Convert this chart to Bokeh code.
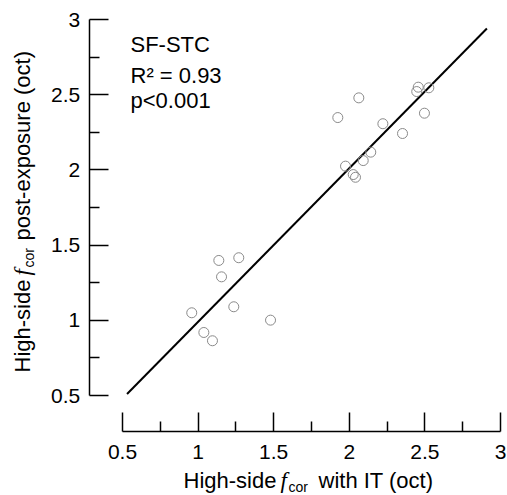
import math
from bokeh.plotting import figure
from bokeh.models import Label, FixedTicker, Range1d
from bokeh.embed import file_html
from bokeh.resources import INLINE

# ---- data ----
it_x = [2.456, 2.526, 2.446, 2.063, 1.924, 2.497, 2.222, 2.352, 2.142, 2.092,
        1.975, 2.026, 2.041, 1.137, 1.269, 1.155, 1.236, 0.958, 1.479, 1.038, 1.095]
post_y = [2.550, 2.546, 2.521, 2.479, 2.348, 2.377, 2.307, 2.242, 2.118, 2.062,
          2.025, 1.969, 1.951, 1.398, 1.416, 1.289, 1.090, 1.050, 1.001, 0.919, 0.864]
fit_x = [0.53, 2.91]
fit_y = [0.51, 2.94]
ticks = [0.5, 1, 1.5, 2, 2.5, 3]
tick_labels = ["0.5", "1", "1.5", "2", "2.5", "3"]
minor = [0.75, 1.25, 1.75, 2.25, 2.75]
stats = ["SF-STC", "R\u00b2 = 0.93", "p<0.001"]

W, H = 507, 495
PX = 151.2   # px per unit, x
PY = 150.4   # px per unit, y
XS = 0.5 - 122 / PX          # x value at left canvas edge
YE = 3.0 + 19 / PY           # y value at top canvas edge

p = figure(width=W, height=H, output_backend="svg", toolbar_location=None,
           x_range=Range1d(XS, XS + W / PX), y_range=Range1d(YE - H / PY, YE),
           min_border=0, min_border_left=0, min_border_right=0,
           min_border_top=0, min_border_bottom=0)
p.outline_line_color = None
p.grid.visible = False
p.background_fill_color = "white"
p.border_fill_color = "white"

def px2x(px):
    return XS + px / PX

def px2y(py):
    return YE - py / PY

for ax in (p.xaxis[0], p.yaxis[0]):
    ax.ticker = FixedTicker(ticks=ticks, minor_ticks=minor)
    ax.major_label_overrides = {t: l for t, l in zip(ticks, tick_labels)}
    ax.bounds = (0.5, 3)
    ax.axis_line_color = "black"
    ax.axis_line_width = 1.5
    ax.major_tick_line_color = "black"
    ax.major_tick_line_width = 1.5
    ax.minor_tick_line_color = "black"
    ax.minor_tick_line_width = 1.5
    ax.major_tick_in = 19
    ax.major_tick_out = 0
    ax.minor_tick_in = 10
    ax.minor_tick_out = 0
    ax.major_label_text_font = "Liberation Sans"
    ax.major_label_text_font_size = "21px"
    ax.major_label_text_color = "black"
p.xaxis.fixed_location = px2y(431)
p.yaxis.fixed_location = px2x(88.7)
p.xaxis.major_label_standoff = 13
p.yaxis.major_label_standoff = 9

p.line(fit_x, fit_y, line_color="black", line_width=2)
p.scatter(it_x, post_y, marker="circle", size=10, fill_color=None,
          line_color="#8a8a8a", line_width=1)

def lab(x, y, text, size, angle=0.0, font="Liberation Sans", style="normal"):
    p.add_layout(Label(x=x, y=y, text=text, text_baseline="middle", text_align="left",
                       angle=angle, text_font=font, text_font_style=style,
                       text_font_size=size, text_color="black"))

for txt, py in zip(stats, [44, 75, 100]):
    lab(px2x(130), px2y(py), txt, "22px")

# x-axis label pieces (vertical centre of each piece)
xm = px2y(480)
xsm = px2y(486)
lab(px2x(183), xm, "High-side", "22px")
lab(px2x(280), xm, "f", "23px", font="Liberation Serif", style="italic")
lab(px2x(288), xsm, "cor", "14px")
lab(px2x(318), xm, "with IT (oct)", "22px")

# y-axis label pieces (rotated)
A = math.pi / 2
ym = px2x(22)
ysm = px2x(28)
S = 372
lab(ym, px2y(S), "High-side", "22px", angle=A)
lab(ym, px2y(S - 97), "f", "23px", angle=A, font="Liberation Serif", style="italic")
lab(ysm, px2y(S - 105), "cor", "14px", angle=A)
lab(ym, px2y(S - 132), "post-exposure (oct)", "22px", angle=A)

open("out.html", "w").write(file_html(p, INLINE))
